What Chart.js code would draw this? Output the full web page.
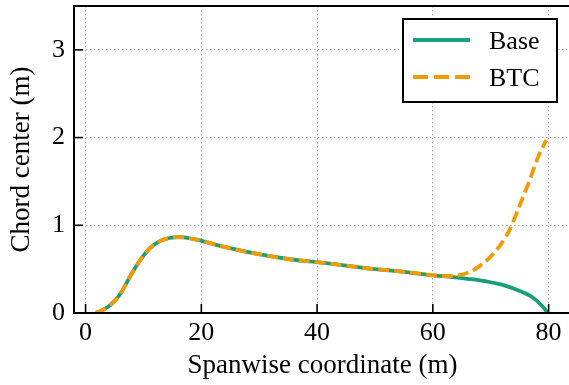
<!DOCTYPE html>
<html>
<head>
<meta charset="utf-8">
<script src="https://cdn.jsdelivr.net/npm/chart.js@4/dist/chart.umd.min.js"></script>
<style>
  html, body { margin: 0; padding: 0; background: #fff; overflow: hidden; width: 569px; height: 385px; }
  #chart { display: block; }
</style>
</head>
<body>
<canvas id="chart" width="575" height="385"></canvas>
<script>
// values
const baseX = [1.8, 3, 4.2, 5.2, 6.2, 7.9, 9.3, 10.2, 11, 12, 13, 14.5, 16.2, 18.5, 20.2, 24.2, 29.9, 35.6, 40, 45, 50, 55, 60, 63.4, 66, 69.2, 72.6, 74.9, 77.2, 78.6, 79.4, 79.8];
const baseY = [0, 0.035, 0.087, 0.15, 0.24, 0.44, 0.59, 0.67, 0.73, 0.785, 0.825, 0.855, 0.865, 0.845, 0.82, 0.75, 0.67, 0.61, 0.58, 0.54, 0.5, 0.47, 0.43, 0.41, 0.39, 0.36, 0.31, 0.255, 0.18, 0.10, 0.04, 0];
const btcX = [1.8, 3, 4.2, 5.2, 6.2, 7.9, 9.3, 10.2, 11, 12, 13, 14.5, 16.2, 18.5, 20.2, 24.2, 29.9, 35.6, 40, 45, 50, 55, 60, 62, 64, 66.3, 68.6, 70.9, 73.2, 74.9, 76.7, 78.2, 79.6];
const btcY = [0, 0.035, 0.087, 0.15, 0.24, 0.44, 0.59, 0.67, 0.73, 0.785, 0.825, 0.855, 0.865, 0.845, 0.82, 0.75, 0.67, 0.61, 0.58, 0.54, 0.5, 0.47, 0.43, 0.42, 0.425, 0.465, 0.56, 0.71, 0.94, 1.21, 1.51, 1.78, 1.97];
const xTicks = [0, 20, 40, 60, 80];
const yTicks = [0, 1, 2, 3];

const teal = '#1b9e7c';
const orange = '#f39a00';
const serif = "'Liberation Serif', 'DejaVu Serif', serif";

function pts(xs, ys) {
    return xs.map(function (x, i) { return {x: x, y: ys[i]}; });
}

// frame, inward ticks and the boxed legend
const decor = {
    id: 'decor',
    afterDatasetsDraw: function (chart) {
        const ctx = chart.ctx;
        const a = chart.chartArea;
        const sx = chart.scales.x, sy = chart.scales.y;
        ctx.save();
        ctx.strokeStyle = '#000';
        ctx.lineWidth = 2;
        ctx.beginPath();
        ctx.moveTo(a.right, a.top);
        ctx.lineTo(a.left, a.top);
        ctx.lineTo(a.left, a.bottom);
        ctx.lineTo(a.right, a.bottom);
        ctx.stroke();
        ctx.lineWidth = 1.6;
        xTicks.forEach(function (v) {
            const px = sx.getPixelForValue(v);
            ctx.beginPath();
            ctx.moveTo(px, a.bottom);
            ctx.lineTo(px, a.bottom - 9);
            ctx.stroke();
        });
        yTicks.forEach(function (v) {
            const py = sy.getPixelForValue(v);
            ctx.beginPath();
            ctx.moveTo(a.left, py);
            ctx.lineTo(a.left + 9, py);
            ctx.stroke();
        });

        // legend
        ctx.fillStyle = '#fff';
        ctx.fillRect(403, 19, 154, 83);
        ctx.lineWidth = 2;
        ctx.strokeRect(403, 19, 154, 83);
        const items = [chart.data.datasets[1], chart.data.datasets[0]];
        items.forEach(function (ds, i) {
            const ly = 40 + i * 37;
            ctx.strokeStyle = ds.borderColor;
            ctx.lineWidth = ds.borderWidth;
            ctx.setLineDash(ds.borderDash.length ? [15, 6] : []);
            ctx.beginPath();
            ctx.moveTo(413, ly);
            ctx.lineTo(470, ly);
            ctx.stroke();
            ctx.setLineDash([]);
            ctx.fillStyle = '#000';
            ctx.font = '26px ' + serif;
            ctx.textBaseline = 'alphabetic';
            ctx.fillText(ds.label, 489, ly + 9);
        });
        ctx.restore();
    }
};

new Chart(document.getElementById('chart'), {
    type: 'line',
    data: {
        datasets: [
            {
                label: 'BTC',
                data: pts(btcX, btcY),
                borderColor: orange,
                borderWidth: 3.8,
                borderDash: [11, 5],
                pointRadius: 0,
                cubicInterpolationMode: 'monotone',
                order: 1
            },
            {
                label: 'Base',
                data: pts(baseX, baseY),
                borderColor: teal,
                borderWidth: 3.8,
                borderDash: [],
                pointRadius: 0,
                cubicInterpolationMode: 'monotone',
                order: 2
            }
        ]
    },
    options: {
        responsive: false,
        animation: false,
        layout: { padding: { top: 6, right: 4, left: 0, bottom: 0 } },
        plugins: { legend: { display: false }, tooltip: { enabled: false } },
        scales: {
            x: {
                type: 'linear',
                min: -2,
                max: 83.87,
                afterBuildTicks: function (s) { s.ticks = xTicks.map(function (v) { return {value: v}; }); },
                afterFit: function (s) { s.height = 72; s.paddingLeft = 0; s.paddingRight = 0; },
                grid: { color: '#a8a8a8', lineWidth: 1, drawTicks: false },
                border: { display: false, dash: [1.5, 2.5] },
                ticks: { color: '#000', padding: 5, maxRotation: 0, font: { family: serif, size: 26 } },
                title: {
                    display: true,
                    text: 'Spanwise coordinate (m)',
                    color: '#000',
                    font: { family: serif, size: 27, lineHeight: 1.2 },
                    padding: { top: 0, bottom: 3 }
                }
            },
            y: {
                type: 'linear',
                min: 0,
                max: 3.5,
                afterBuildTicks: function (s) { s.ticks = yTicks.map(function (v) { return {value: v}; }); },
                afterFit: function (s) { s.width = 74; s.paddingTop = 0; s.paddingBottom = 0; },
                grid: { color: '#a8a8a8', lineWidth: 1, drawTicks: false },
                border: { display: false, dash: [1.5, 2.5] },
                ticks: { color: '#000', padding: 9, font: { family: serif, size: 26 } },
                title: {
                    display: true,
                    text: 'Chord center (m)',
                    color: '#000',
                    font: { family: serif, size: 27, lineHeight: 1.2 },
                    padding: { top: 6, bottom: 0 }
                }
            }
        }
    },
    plugins: [decor]
});
</script>
</body>
</html>
